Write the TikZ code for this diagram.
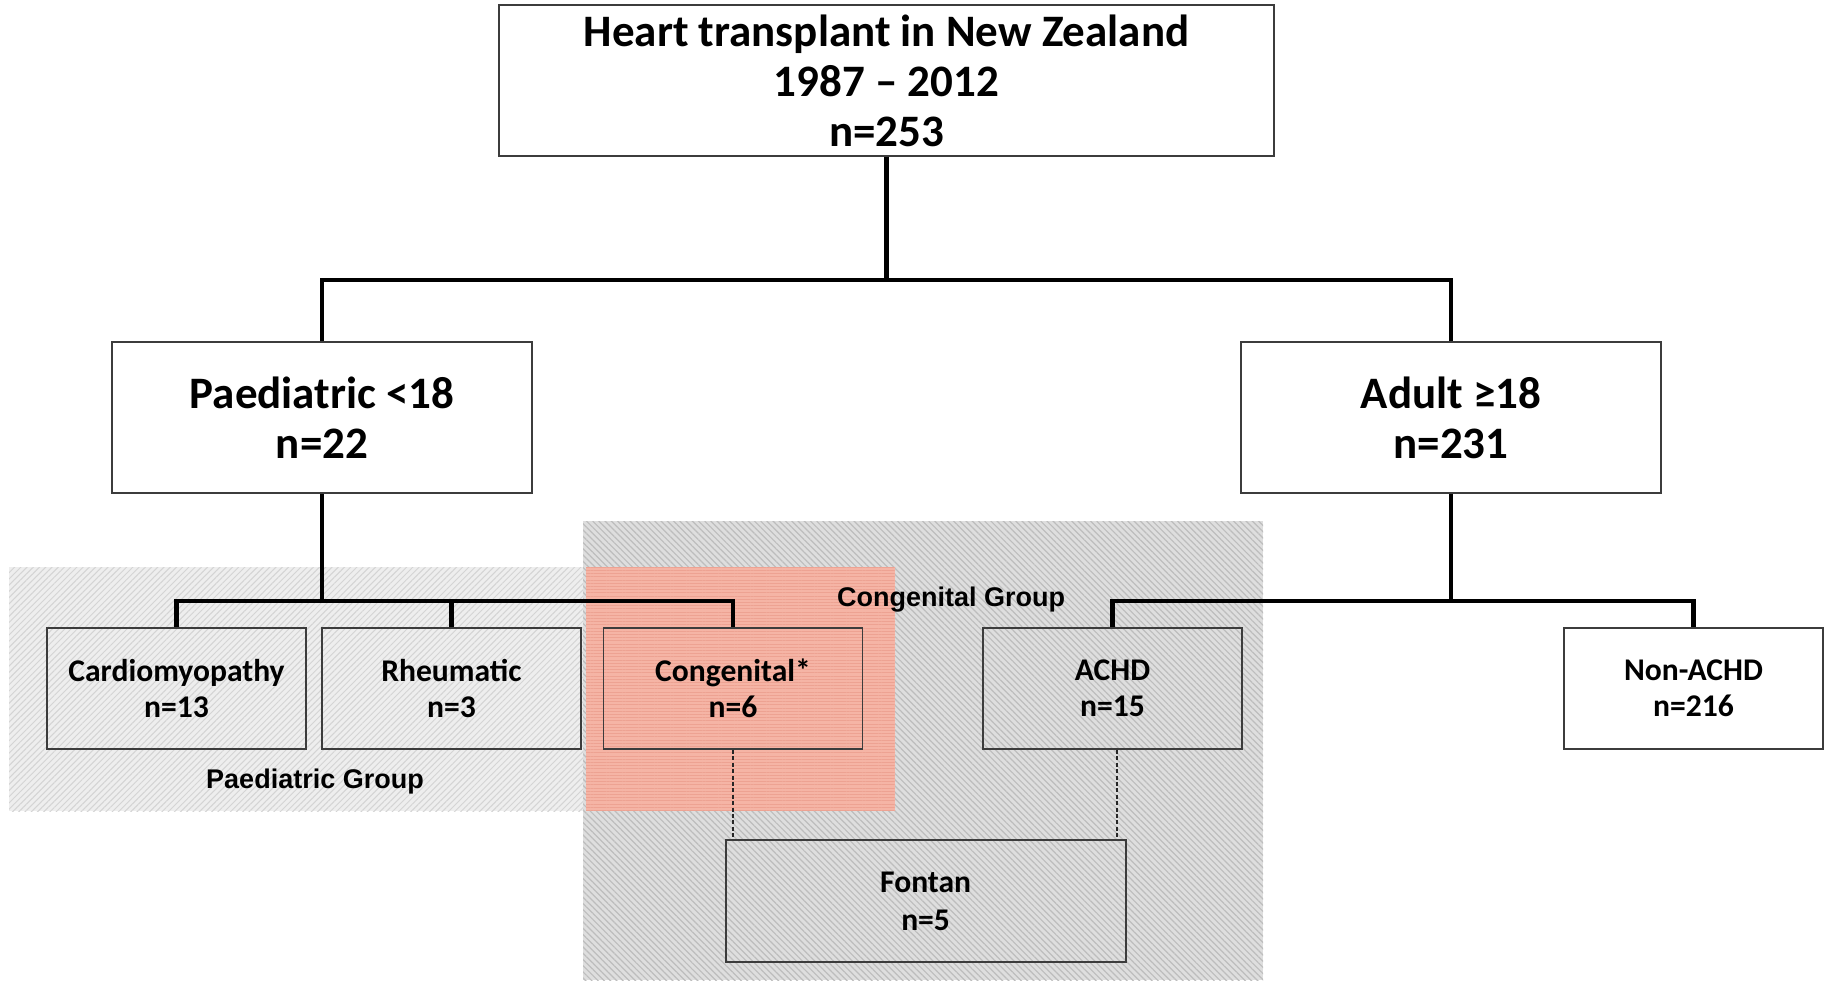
\documentclass[tikz,border=0pt]{standalone}
\usepackage{fontspec}
\setmainfont{Carlito}
\newfontfamily\grpfont{Liberation Sans}
\usetikzlibrary{patterns.meta}
\definecolor{paedfill}{HTML}{EEEEEE}
\definecolor{paedhatch}{HTML}{D4D4D4}
\definecolor{congfill}{HTML}{DEDEDE}
\definecolor{conghatch}{HTML}{BDBDBD}
\definecolor{redfill}{HTML}{F5B4A5}
\definecolor{redhatch}{HTML}{EDA292}
\definecolor{boxline}{HTML}{3C3C3C}
\tikzset{
  bigbox/.style={draw=boxline, line width=0.9pt, fill=white, align=center,
    font=\bfseries\fontsize{22.5}{25}\selectfont, inner sep=0pt},
  subbox/.style={draw=boxline, line width=0.9pt, align=center,
    font=\bfseries\fontsize{15.8}{18}\selectfont, inner sep=0pt,
    minimum width=129.5pt, minimum height=60.5pt},
  conn/.style={line width=2.3pt, black},
  dsh/.style={line width=1pt, black!85, dash pattern=on 2pt off 1.2pt},
  grp/.style={font=\grpfont\bfseries\fontsize{13.5}{16}\selectfont, inner sep=0pt}
}
\begin{document}
\begin{tikzpicture}[x=0.5pt,y=-0.5pt]
\useasboundingbox (0,0) rectangle (1829,980);
% group backgrounds
\fill[paedfill] (9,567) rectangle (895,811);
\fill[pattern={Lines[angle=45,distance=2.2pt,line width=0.5pt]}, pattern color=paedhatch] (9,567) rectangle (895,811);
\fill[congfill] (583,521) rectangle (1263,980);
\fill[pattern={Lines[angle=-45,distance=2.2pt,line width=0.6pt]}, pattern color=conghatch] (583,521) rectangle (1263,980);
\fill[redfill] (586,567) rectangle (895,811);
\fill[pattern={Lines[angle=0,distance=1.6pt,line width=0.4pt]}, pattern color=redhatch] (586,567) rectangle (895,811);

% top level
\node[bigbox, minimum width=387.5pt, minimum height=75.5pt] (top) at (886.5,80.5)
  {Heart transplant in New Zealand\\1987 – 2012\\n=253};
\node[bigbox, minimum width=210pt, minimum height=75.5pt] (paed) at (322,417.5)
  {Paediatric <18\\n=22};
\node[bigbox, minimum width=210pt, minimum height=75.5pt] (adult) at (1451,417.5)
  {Adult ≥18\\n=231};

% sub boxes
\node[subbox] (cardio) at (176.5,688.5) {Cardiomyopathy\\n=13};
\node[subbox] (rheu) at (451.5,688.5) {Rheumatic\\n=3};
\node[subbox] (cong) at (733,688.5) {Congenital*\\n=6};
\node[subbox] (achd) at (1112.5,688.5) {ACHD\\n=15};
\node[subbox, fill=white] (nonachd) at (1693.5,688.5) {Non-ACHD\\n=216};
\node[subbox, minimum width=200pt, minimum height=61pt,
  font=\bfseries\fontsize{15.8}{19}\selectfont] (fontan) at (925.6,901) {Fontan\\n=5};

% group labels
\node[grp] (pg) at (315,782) {Paediatric Group};
\node[grp] (cg) at (951,600) {Congenital Group};

% connectors
\coordinate (bus) at (0,280);
\coordinate (sbus) at (0,601);
\draw[conn] (top.south) -- (top.south |- bus);
\draw[conn] (paed.north) -- (paed.north |- bus) -- (adult.north |- bus) -- (adult.north);
\draw[conn] (paed.south) -- (paed.south |- sbus);
\draw[conn] (cardio.north) -- (cardio.north |- sbus) -- (cong.north |- sbus) -- (cong.north);
\draw[conn] (rheu.north) -- (rheu.north |- sbus);
\draw[conn] (adult.south) -- (adult.south |- sbus);
\draw[conn] (achd.north) -- (achd.north |- sbus) -- (nonachd.north |- sbus) -- (nonachd.north);
\draw[dsh] (cong.south) -- (cong.south |- fontan.north);
\draw[dsh] ([xshift=2pt]achd.south) -- ([xshift=2pt]achd.south |- fontan.north);
\end{tikzpicture}
\end{document}
